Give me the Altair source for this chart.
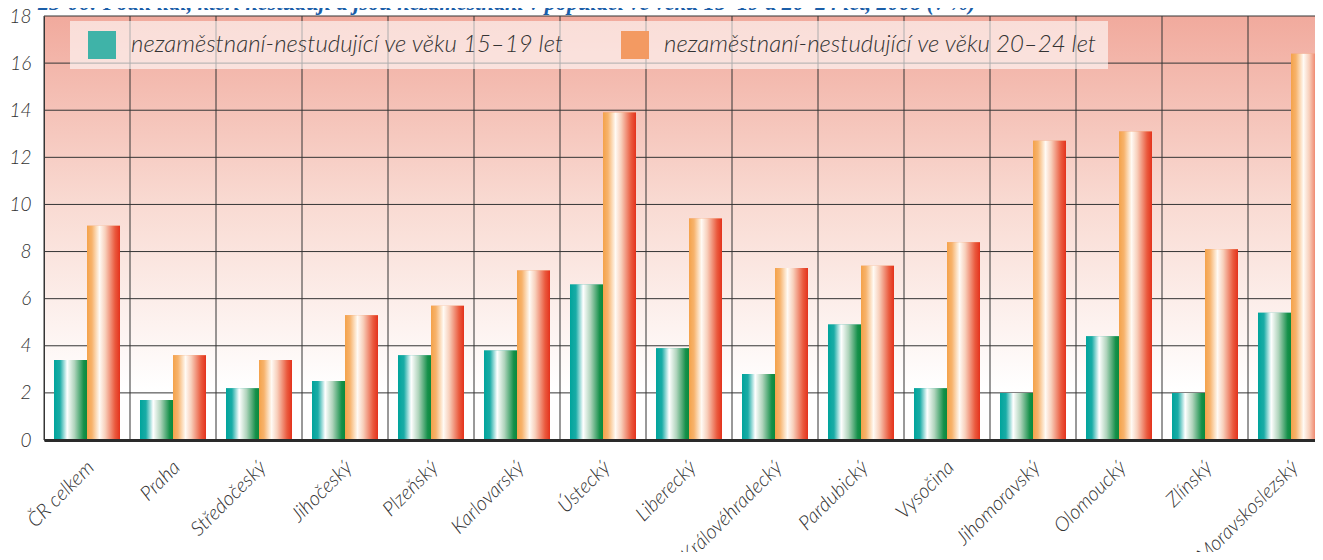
import altair as alt
import pandas as pd

regions = ["ČR celkem", "Praha", "Středočeský", "Jihočeský", "Plzeňský",
           "Karlovarský", "Ústecký", "Liberecký", "Královéhradecký", "Pardubický",
           "Vysočina", "Jihomoravský", "Olomoucký", "Zlínský", "Moravskoslezský"]
teen = [3.4, 1.7, 2.2, 2.5, 3.6, 3.8, 6.6, 3.9, 2.8, 4.9, 2.2, 2.0, 4.4, 2.0, 5.4]
young = [9.1, 3.6, 3.4, 5.3, 5.7, 7.2, 13.9, 9.4, 7.3, 7.4, 8.4, 12.7, 13.1, 8.1, 16.4]
series = ["nezaměstnaní-nestudující ve věku 15–19 let",
          "nezaměstnaní-nestudující ve věku 20–24 let"]
y_ticks = [0, 2, 4, 6, 8, 10, 12, 14, 16, 18]
title_text = ("23-06: Podíl lidí, kteří nestudují a jsou nezaměstnaní v populaci "
              "ve věku 15–19 a 20–24 let, 2008 (v %)")

rows = []
for r, a, b in zip(regions, teen, young):
    rows.append({"region": r, "series": series[0], "value": a})
    rows.append({"region": r, "series": series[1], "value": b})
df = pd.DataFrame(rows)

FONT = "Lato"
GRID = "#353535"

teal_grad = alt.LinearGradient(
    gradient="linear", x1=0, y1=0, x2=1, y2=0,
    stops=[alt.GradientStop(offset=0, color="#00a49c"),
           alt.GradientStop(offset=0.18, color="#1aaca6"),
           alt.GradientStop(offset=0.4, color="#ffffff"),
           alt.GradientStop(offset=0.62, color="#b0d4bc"),
           alt.GradientStop(offset=0.9, color="#15904a"),
           alt.GradientStop(offset=1, color="#0b8a3c")])
orange_grad = alt.LinearGradient(
    gradient="linear", x1=0, y1=0, x2=1, y2=0,
    stops=[alt.GradientStop(offset=0, color="#f4a24a"),
           alt.GradientStop(offset=0.15, color="#f7b36c"),
           alt.GradientStop(offset=0.38, color="#fffaf4"),
           alt.GradientStop(offset=0.55, color="#f8d0bc"),
           alt.GradientStop(offset=0.85, color="#ea5a3e"),
           alt.GradientStop(offset=1, color="#e4321c")])
bg_grad = alt.LinearGradient(
    gradient="linear", x1=0, y1=0, x2=0, y2=1,
    stops=[alt.GradientStop(offset=0, color="#f1aa9d"),
           alt.GradientStop(offset=0.45, color="#f9dbd3"),
           alt.GradientStop(offset=0.88, color="#ffffff"),
           alt.GradientStop(offset=1, color="#ffffff")])

x_scale = alt.Scale(domain=regions, paddingInner=0, paddingOuter=0)
x_axis = alt.Axis(title=None, grid=False, ticks=False, domain=True,
                  domainColor="#2a2a2a", domainWidth=3, zindex=1,
                  labelAngle=-45, labelAlign="right", labelBaseline="middle",
                  labelPadding=24, labelOffset=4, labelFont=FONT,
                  labelFontSize=20, labelFontStyle="italic", labelFontWeight=300,
                  labelColor="#333333")
y_scale = alt.Scale(domain=[0, 18], nice=False)
y_axis = alt.Axis(title=None, values=y_ticks, grid=False, ticks=False,
                  domain=True, domainColor="#353535", zindex=1,
                  labelPadding=13, labelFont=FONT, labelFontSize=19,
                  labelFontStyle="italic", labelFontWeight=300,
                  labelColor="#333333")

# background gradient of the plot area
bg = alt.Chart(pd.DataFrame({"bg": [0]})).mark_rect(color=bg_grad).encode(
    x=alt.value(0), x2=alt.value("width"), y=alt.value(0), y2=alt.value("height"))

# horizontal grid lines from the tick values
hgrid = alt.Chart(pd.DataFrame({"value": y_ticks})).mark_rule(
    color=GRID, strokeWidth=1).encode(
    y=alt.Y("value:Q", scale=y_scale, axis=y_axis),
    x=alt.value(0), x2=alt.value("width"))

# vertical grid lines at the start of each category band
vgrid = alt.Chart(pd.DataFrame({"region": regions})).mark_rule(
    color=GRID, strokeWidth=1).encode(
    x=alt.X("region:N", sort=regions, scale=x_scale, axis=x_axis, bandPosition=0),
    y=alt.value(0), y2=alt.value("height"))

base = alt.Chart(df).encode(
    x=alt.X("region:N", sort=regions, scale=x_scale, axis=x_axis),
    y=alt.Y("value:Q", scale=y_scale, axis=y_axis),
    xOffset=alt.XOffset("series:N", sort=series,
                        scale=alt.Scale(paddingInner=0, paddingOuter=0.303)))

legend_layer = base.mark_bar().encode(
    color=alt.Color(
        "series:N", sort=series,
        scale=alt.Scale(domain=series, range=["#3fb3a8", "#f39a62"]),
        legend=alt.Legend(orient="none", legendX=26, legendY=5,
                          direction="horizontal", title=None,
                          fillColor="rgba(255,255,255,0.6)", padding=10,
                          symbolType="square", symbolSize=784,
                          symbolStrokeWidth=0, symbolOpacity=1,
                          symbolOffset=8,
                          labelFont=FONT, labelFontSize=24,
                          labelFontStyle="italic", labelFontWeight=300,
                          labelColor="#333333", labelLimit=700,
                          labelOffset=15, columnPadding=48)))

teal_layer = base.transform_filter(
    alt.datum.series == series[0]).mark_bar(color=teal_grad)
orange_layer = base.transform_filter(
    alt.datum.series == series[1]).mark_bar(color=orange_grad)

# chart heading (its upper part is cut by the page edge, as in the reference)
heading = alt.Chart(pd.DataFrame({"t": [title_text]})).mark_text(
    align="left", baseline="alphabetic", font="Liberation Sans Narrow",
    fontSize=22.3, fontStyle="italic", fontWeight="bold", color="#1a5ea8"
).encode(text="t:N", x=alt.value(-6), y=alt.value(-6))

chart = alt.layer(bg, hgrid, vgrid, legend_layer, teal_layer, orange_layer,
                  heading).properties(
    width=1290, height=424,
    autosize=alt.AutoSizeParams(type="none"),
    padding={"left": 36, "top": 8, "right": -19, "bottom": 112},
).configure_view(stroke=None).configure(background="white")

chart.save("out.html", embed_options={"renderer": "svg", "actions": False})
